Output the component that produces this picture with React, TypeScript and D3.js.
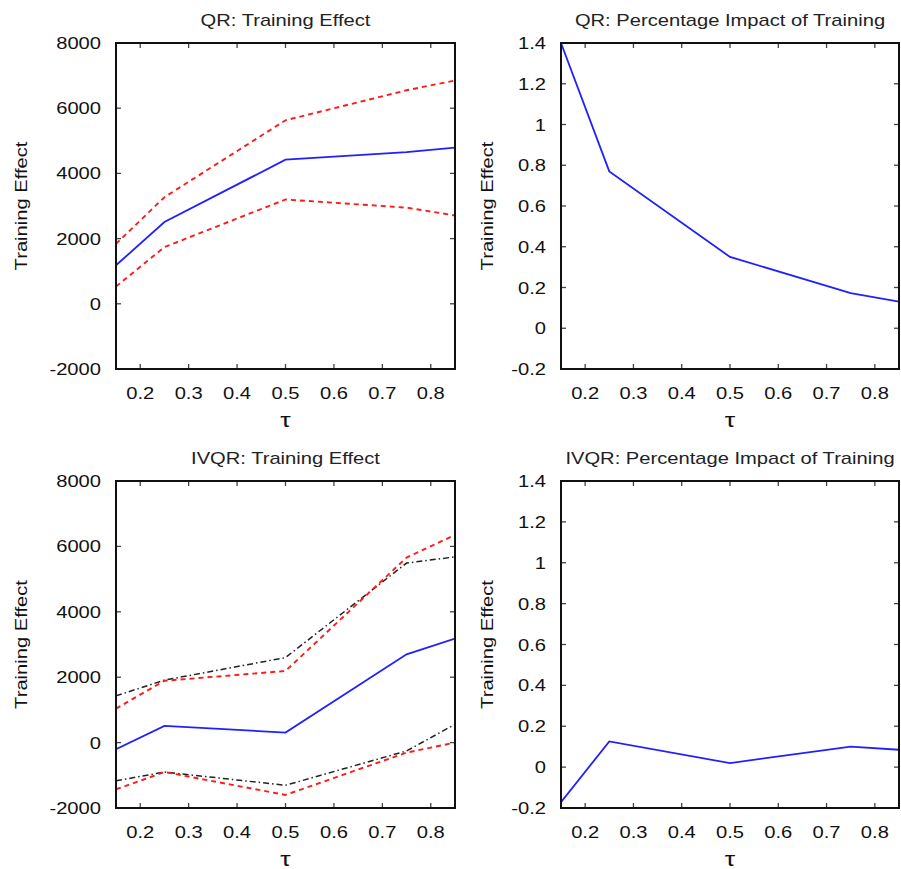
import React from "react";
import * as d3 from "d3";

// ---------- data ----------
const taus = [0.15, 0.25, 0.5, 0.75, 0.85];

const qrEffect = [1180, 2510, 4420, 4650, 4790];
const qrUpper = [1840, 3270, 5630, 6550, 6850];
const qrLower = [530, 1740, 3200, 2950, 2710];

const qrPct = [1.4, 0.77, 0.35, 0.172, 0.131];

const ivqrEffect = [-200, 510, 306, 2700, 3180];
const ivqrUpperRed = [1040, 1890, 2190, 5660, 6350];
const ivqrLowerRed = [-1430, -900, -1600, -306, 0];
const ivqrUpperBlack = [1430, 1910, 2600, 5490, 5680];
const ivqrLowerBlack = [-1170, -900, -1306, -255, 560];

const ivqrPct = [-0.172, 0.126, 0.02, 0.1, 0.085];

const xTicks = [0.2, 0.3, 0.4, 0.5, 0.6, 0.7, 0.8];
const effectTicks = [-2000, 0, 2000, 4000, 6000, 8000];
const pctTicks = [-0.2, 0, 0.2, 0.4, 0.6, 0.8, 1, 1.2, 1.4];

const titles = [
  "QR: Training Effect",
  "QR: Percentage Impact of Training",
  "IVQR: Training Effect",
  "IVQR: Percentage Impact of Training",
];

// ---------- styling ----------
const FONT = "'Liberation Sans', Arial, Helvetica, sans-serif";
const FS = 16;
const SX = 1.26;
const BLUE = "#2020ff";
const RED = "#ff1a1a";
const BLACK = "#222";

type Series = { values: number[]; color: string; dash?: string; width: number };

function T({ x, y, anchor, children, rotate = 0, color = "#111", size = FS }: any) {
  return (
    <g transform={`translate(${x},${y}) rotate(${rotate}) scale(${SX},1)`}>
      <text
        x={0}
        y={0}
        textAnchor={anchor}
        fontFamily={FONT}
        fontSize={size}
        fill={color}
      >
        {children}
      </text>
    </g>
  );
}

function Panel({
  x0,
  x1,
  y0,
  y1,
  title,
  yDomain,
  yTicks,
  series,
  yLabelOffset,
  fmt,
}: {
  x0: number;
  x1: number;
  y0: number;
  y1: number;
  title: string;
  yDomain: [number, number];
  yTicks: number[];
  series: Series[];
  yLabelOffset: number;
  fmt: (v: number) => string;
}) {
  const x = d3.scaleLinear().domain([0.15, 0.85]).range([x0, x1]);
  const y = d3.scaleLinear().domain(yDomain).range([y1, y0]);
  const line = d3
    .line<number>()
    .x((_, i) => x(taus[i]))
    .y((d) => y(d));
  const tl = 5;
  const clipId = `clip-${Math.round(x0)}-${Math.round(y0)}`;
  return (
    <g>
      <defs>
        <clipPath id={clipId}>
          <rect x={x0} y={y0 - 2} width={x1 - x0} height={y1 - y0 + 4} />
        </clipPath>
      </defs>
      {/* ticks */}
      {xTicks.map((t) => (
        <g key={"xt" + t}>
          <line x1={x(t)} x2={x(t)} y1={y1} y2={y1 - tl} stroke="#444" strokeWidth={1.3} />
          <line x1={x(t)} x2={x(t)} y1={y0} y2={y0 + tl} stroke="#444" strokeWidth={1.3} />
          <T x={x(t)} y={y1 + 30} anchor="middle">
            {d3.format(".1f")(t)}
          </T>
        </g>
      ))}
      {yTicks.map((t) => (
        <g key={"yt" + t}>
          <line x1={x0} x2={x0 + tl} y1={y(t)} y2={y(t)} stroke="#444" strokeWidth={1.3} />
          <line x1={x1} x2={x1 - tl} y1={y(t)} y2={y(t)} stroke="#444" strokeWidth={1.3} />
          <T x={x0 - 15} y={y(t) + 6} anchor="end">
            {fmt(t)}
          </T>
        </g>
      ))}
      {/* series */}
      <g clipPath={`url(#${clipId})`}>
        {series.map((s, i) => (
          <path
            key={i}
            d={line(s.values) || ""}
            fill="none"
            stroke={s.color}
            strokeWidth={s.width}
            strokeDasharray={s.dash}
          />
        ))}
      </g>
      {/* frame */}
      <rect x={x0} y={y0} width={x1 - x0} height={y1 - y0} fill="none" stroke="#111" strokeWidth={2} />
      {/* title */}
      <T x={(x0 + x1) / 2} y={y0 - 17} anchor="middle" color="#222">
        {title}
      </T>
      {/* x label */}
      <T x={(x0 + x1) / 2} y={y1 + 58} anchor="middle" size={21}>
        τ
      </T>
      {/* y label */}
      <T x={x0 - yLabelOffset} y={(y0 + y1) / 2} anchor="middle" rotate={-90}>
        Training Effect
      </T>
    </g>
  );
}

export default function App() {
  const fmtEffect = (v: number) => String(v);
  const fmtPct = (v: number) => String(Math.round(v * 10) / 10);
  const L = { x0: 116, x1: 455 };
  const R = { x0: 561, x1: 899 };
  const TOP = { y0: 43, y1: 369 };
  const BOT = { y0: 481, y1: 808 };
  return (
    <svg
      width={901}
      height={869}
      style={{ position: "absolute", left: 0, top: 0, background: "#fff" }}
    >
      <rect x={0} y={0} width={901} height={869} fill="#fff" />
      <Panel
        {...L}
        {...TOP}
        title={titles[0]}
        yDomain={[-2000, 8000]}
        yTicks={effectTicks}
        yLabelOffset={89}
        fmt={fmtEffect}
        series={[
          { values: qrUpper, color: RED, dash: "5,4", width: 1.9 },
          { values: qrLower, color: RED, dash: "5,4", width: 1.9 },
          { values: qrEffect, color: BLUE, width: 1.8 },
        ]}
      />
      <Panel
        {...R}
        {...TOP}
        title={titles[1]}
        yDomain={[-0.2, 1.4]}
        yTicks={pctTicks}
        yLabelOffset={68}
        fmt={fmtPct}
        series={[{ values: qrPct, color: BLUE, width: 1.8 }]}
      />
      <Panel
        {...L}
        {...BOT}
        title={titles[2]}
        yDomain={[-2000, 8000]}
        yTicks={effectTicks}
        yLabelOffset={89}
        fmt={fmtEffect}
        series={[
          { values: ivqrUpperBlack, color: BLACK, dash: "6,3,1.5,3", width: 1.5 },
          { values: ivqrLowerBlack, color: BLACK, dash: "6,3,1.5,3", width: 1.5 },
          { values: ivqrUpperRed, color: RED, dash: "5,4", width: 1.9 },
          { values: ivqrLowerRed, color: RED, dash: "5,4", width: 1.9 },
          { values: ivqrEffect, color: BLUE, width: 1.8 },
        ]}
      />
      <Panel
        {...R}
        {...BOT}
        title={titles[3]}
        yDomain={[-0.2, 1.4]}
        yTicks={pctTicks}
        yLabelOffset={68}
        fmt={fmtPct}
        series={[{ values: ivqrPct, color: BLUE, width: 1.8 }]}
      />
    </svg>
  );
}
